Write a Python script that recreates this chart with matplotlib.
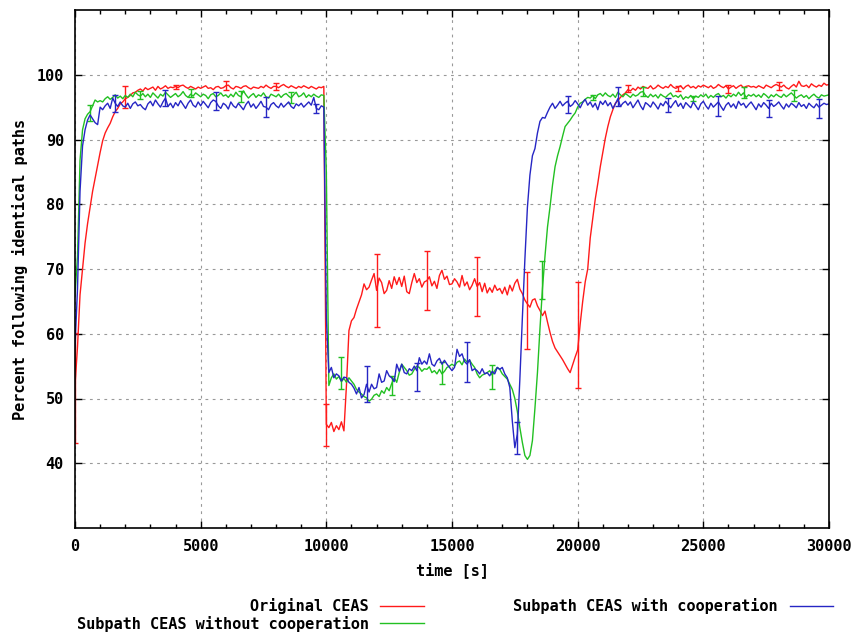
import numpy as np
import matplotlib
matplotlib.use('Agg')
import matplotlib.pyplot as plt
from matplotlib.lines import Line2D
from matplotlib.ticker import MultipleLocator

plt.rcParams['font.family'] = 'DejaVu Sans Mono'
plt.rcParams['font.weight'] = 'bold'
plt.rcParams['axes.labelweight'] = 'bold'
plt.rcParams['font.size'] = 11

# datos: una muestra cada 100 s
time = np.arange(0, 30001, 100)

original = [
    52.0, 58.0, 66.0, 70.0, 74.0, 77.0, 79.5, 82.0, 84.0, 86.0,
    88.0, 89.8, 91.0, 91.8, 92.5, 93.5, 94.3, 94.8, 95.5, 95.8,
    96.3, 96.5, 96.8, 97.2, 97.3, 97.6, 97.8, 97.5, 98.0, 97.7,
    97.9, 98.1, 97.6, 98.2, 97.8, 98.0, 98.3, 97.9, 98.1, 98.0,
    98.2, 98.0, 98.3, 98.4, 98.1, 97.9, 98.2, 98.0, 97.8, 98.1,
    97.9, 98.1, 98.3, 97.9, 98.0, 97.7, 98.1, 98.2, 97.9, 98.0,
    98.3, 98.4, 98.0, 97.8, 98.2, 98.1, 97.9, 98.2, 98.3, 98.0,
    97.8, 98.1, 98.0, 97.9, 98.2, 98.0, 98.4, 98.1, 97.9, 98.2,
    98.2, 98.0, 98.3, 98.5, 98.2, 98.0, 98.3, 98.1, 97.9, 98.2,
    98.0, 98.3, 98.1, 97.9, 98.2, 98.0, 97.8, 98.1, 98.0, 98.2,
    46.0, 45.5, 46.3, 44.9, 45.8, 45.2, 46.4, 45.0, 52.0, 60.5,
    62.0, 62.5, 63.8, 64.9, 66.0, 67.7, 66.8, 67.2, 68.3, 69.3,
    66.7, 68.6, 67.9, 66.2, 66.7, 68.2, 67.0, 68.8, 67.6, 68.7,
    67.3, 68.9, 66.5, 66.2, 67.9, 69.3, 67.9, 68.5, 67.2, 68.0,
    68.2, 68.8, 67.4, 68.1, 67.0, 69.0, 69.8, 68.4, 68.9, 67.6,
    67.7, 68.5, 68.0, 67.2, 69.0, 67.4, 68.0, 66.8, 67.5, 68.5,
    67.3, 67.9, 66.5, 67.8, 66.3, 67.1, 66.4, 67.5, 66.7, 67.0,
    66.2, 67.2, 66.0, 67.5, 66.6, 67.8, 68.4, 66.9, 66.2, 65.2,
    64.6, 64.1, 65.2, 65.4, 64.3, 63.6, 62.8, 63.5, 61.8, 60.2,
    58.8, 57.8, 57.2, 56.6, 56.0, 55.3, 54.6, 54.0, 55.2, 56.4,
    57.5, 61.5, 65.0, 68.0, 70.0, 74.8, 77.8, 80.8, 83.2, 85.8,
    88.0, 90.2, 92.0, 93.5, 94.6, 95.6, 96.0, 96.5, 96.9, 97.2,
    97.7, 97.5, 97.9, 97.6, 98.1, 97.8, 98.2, 98.0, 97.9, 98.3,
    97.8, 98.0, 98.4, 98.1, 97.9, 98.2, 98.0, 98.5, 98.1, 97.9,
    98.1, 98.3, 97.8, 98.2, 98.4, 98.0, 98.2, 97.9, 98.3, 98.1,
    98.4, 98.2, 98.0, 98.3, 97.9, 98.1, 98.5, 98.2, 98.0, 98.3,
    97.8, 98.1, 98.3, 97.9, 98.2, 98.4, 98.0, 98.2, 98.3, 98.1,
    98.2, 98.0, 98.3, 98.1, 97.9, 98.4, 98.2, 98.0, 98.3, 98.5,
    98.3, 98.1, 98.4, 98.0, 97.8, 98.2, 98.5, 98.1, 99.0, 98.3,
    98.2, 98.4, 98.0, 98.6, 98.3, 98.1, 98.4, 98.2, 98.7, 98.4,
    98.5,
]

sin_coop = [
    66.0, 72.0, 86.8, 91.5, 93.2, 93.9, 94.3, 95.2, 96.1, 95.8,
    96.0, 95.8, 96.3, 96.6, 96.2, 96.5, 96.9, 96.4, 96.7, 96.3,
    96.8, 96.5, 97.0, 96.6, 97.3, 96.9, 96.7, 97.1, 96.6, 97.0,
    96.5, 97.2, 96.8, 96.4, 97.0, 96.7, 97.3, 96.9, 96.5, 96.8,
    97.1, 96.6, 96.9, 97.4, 96.8, 96.5, 97.0, 96.7, 97.2, 96.9,
    96.6, 97.0, 96.8, 96.3, 96.9, 97.1, 96.6, 96.8, 97.2, 96.7,
    96.9, 96.5, 97.0, 96.6, 97.3, 96.8, 96.6, 97.5, 96.9, 96.4,
    96.8, 97.1, 96.5, 96.9, 96.7, 97.2, 96.6, 96.4, 97.0, 96.8,
    96.6, 97.0, 96.5, 96.9, 97.1, 96.7, 96.4, 96.9, 97.3, 96.6,
    96.8, 97.2, 96.5, 96.9, 96.6, 97.0, 96.7, 96.5, 96.9, 96.8,
    85.0, 52.0, 53.2, 53.8, 53.0, 53.4, 52.6, 53.1, 52.5, 53.2,
    52.7, 52.2, 51.4, 51.0, 50.7, 50.3, 50.1, 49.6, 49.9, 50.5,
    50.7, 50.3, 51.2, 50.8, 51.7, 51.2, 52.3, 53.2, 52.5, 54.0,
    55.3, 54.8, 54.3, 53.6, 53.8, 54.5, 55.0, 54.8, 54.2, 54.6,
    54.5, 54.9, 54.0, 54.3, 53.8, 54.5, 53.8, 54.2, 54.8, 55.0,
    55.3, 55.0, 55.6, 55.8, 55.2, 56.1, 55.6, 55.9, 55.3, 54.8,
    53.8, 53.2, 53.6, 53.8, 54.0, 54.3, 53.6, 54.3, 54.8, 54.5,
    53.8, 53.4, 53.0, 52.2, 51.4, 50.0, 48.0, 45.5, 43.2, 41.2,
    40.6, 41.2, 43.5, 48.5, 54.0, 60.8, 67.0, 72.0, 76.5, 79.6,
    83.0, 85.8, 87.5, 88.9, 90.5, 92.0, 92.5, 93.0, 93.6, 94.1,
    95.0, 95.6, 95.8, 96.2, 96.5, 96.4, 96.8, 96.3, 96.9, 97.1,
    96.7, 97.2, 96.8, 96.6, 97.0, 96.5, 97.3, 96.9, 96.6, 97.1,
    96.8, 96.5, 97.0, 96.7, 96.9, 97.3, 97.4, 96.8, 96.5, 97.0,
    96.6, 96.9, 96.4, 97.0, 96.7, 96.5, 96.9, 97.2, 96.6, 96.8,
    96.5, 96.9, 96.2, 96.6, 96.4, 96.8, 96.3, 96.7, 96.5, 96.9,
    96.6, 97.0, 96.4, 96.8, 96.5, 96.9, 97.1, 96.6, 96.8, 96.4,
    96.9, 96.6, 97.0, 96.7, 97.3, 96.8, 97.2, 96.5, 96.9, 96.7,
    97.0, 96.6, 96.9, 96.5, 97.1, 96.8, 96.4, 96.9, 96.6, 97.0,
    96.7, 96.5, 97.0, 96.6, 96.9, 97.2, 96.8, 96.4, 96.7, 96.9,
    96.5, 96.8, 96.3, 96.7, 97.0, 96.6, 96.4, 96.9, 96.7, 96.8,
    96.9,
]

con_coop = [
    58.0, 67.0, 82.0, 89.0, 91.5, 93.0, 93.8, 93.2, 92.6, 92.3,
    95.0, 94.6, 95.2, 95.6, 94.8, 96.4, 95.6, 95.1, 95.8, 95.2,
    95.0, 95.6, 94.8, 95.5, 95.8, 95.2, 95.4, 94.9, 94.6, 95.5,
    95.9, 95.2, 96.1, 95.5, 95.0, 95.8, 96.4, 95.1, 95.6, 94.9,
    95.7, 95.2, 96.0, 95.4, 94.8, 95.6, 96.1, 95.3, 95.0, 95.8,
    95.2, 95.9, 95.4, 94.9, 95.7, 96.1, 95.9, 95.2, 94.8, 95.6,
    95.3, 94.7, 95.8, 95.2, 94.9, 95.6, 95.1, 94.6, 95.4, 95.9,
    95.0, 95.5, 94.8, 95.3, 95.9, 95.1, 95.0, 94.6, 95.4, 95.7,
    95.2, 94.9, 95.6, 95.0, 95.4, 95.8, 95.1, 94.8, 95.5, 95.2,
    95.6, 95.0, 95.4, 95.8, 95.3, 96.5, 94.8, 94.6, 95.2, 95.0,
    62.5, 54.0, 54.8, 53.2, 53.8, 53.5, 52.7, 53.3, 53.2, 52.5,
    52.2, 51.6, 50.7, 51.7, 50.1, 50.6, 52.2, 51.0, 52.2, 51.5,
    51.7, 53.8, 52.5, 52.7, 54.3, 53.5, 53.2, 52.6, 55.3, 54.2,
    55.3, 54.0, 53.8, 54.6, 54.3, 55.0, 54.3, 56.3, 55.3, 55.8,
    55.3, 56.9, 55.3, 55.0, 55.8, 56.2, 55.3, 55.9, 55.3, 54.8,
    54.3, 54.8, 57.6, 56.5, 56.9, 55.7, 55.3, 56.0, 54.3, 54.6,
    54.3, 53.8, 54.6, 53.8, 54.0, 53.5, 54.2, 53.8, 54.8, 54.5,
    54.8, 53.8, 53.2, 51.7, 46.5, 42.4, 44.5, 53.0, 62.5, 71.5,
    79.5, 84.5, 87.5, 88.6, 91.0, 92.8, 93.4, 93.3, 94.2, 95.0,
    95.6, 94.8, 95.3, 95.9, 95.2, 95.6, 95.9, 95.1, 95.4, 96.0,
    95.5, 94.9, 95.7, 96.2, 95.3, 95.8, 95.0, 95.6, 94.6, 95.9,
    95.4, 96.0, 95.2, 95.7, 94.8, 95.5, 96.3, 95.1, 95.6, 95.9,
    95.3, 95.8, 94.9, 95.5, 96.1, 95.2, 94.6, 95.7, 95.4, 95.0,
    95.8, 95.3, 94.7, 95.6, 95.2, 95.9, 95.4, 94.9, 95.5, 96.0,
    95.1, 95.6, 94.8, 95.7, 95.3, 94.9, 95.8, 95.2, 94.6, 95.5,
    95.9, 95.2, 94.7, 95.6, 95.0, 95.4, 95.8, 95.1, 94.5, 95.3,
    95.7, 95.0, 95.5, 94.8, 95.9, 95.3, 95.6, 94.9, 95.4, 95.8,
    95.2, 94.6, 95.5, 95.0, 95.7, 95.3, 94.8, 95.6, 95.1, 95.4,
    95.8, 95.2, 94.7, 95.5, 95.0, 95.6, 95.3, 94.9, 95.7, 95.1,
    95.4, 94.8, 95.6, 95.2, 94.9, 95.5, 95.0, 95.3, 95.6, 95.4,
    95.5,
]

# barras de error
t_err_orig = [0, 2000, 4000, 6000, 8000, 10000, 12000, 14000, 16000, 18000,
              20000, 22000, 24000, 26000, 28000]
v_err_orig = [51.6, 96.6, 98.1, 98.3, 98.2, 45.9, 66.7, 68.2, 67.3, 63.6,
              59.8, 97.9, 97.9, 97.8, 98.3]
e_err_orig = [8.5, 1.7, 0.3, 0.7, 0.5, 3.2, 5.6, 4.6, 4.6, 5.9,
              8.2, 0.5, 0.4, 0.6, 0.65]

t_err_sin = [600, 2600, 4600, 6600, 8600, 10600, 12600, 14600, 16600, 18600,
             20600, 22600, 24600, 26600, 28600]
v_err_sin = [94.1, 96.9, 97.2, 96.7, 96.5, 53.9, 52.0, 53.9, 53.3, 68.3,
             96.5, 97.4, 96.3, 97.2, 96.8]
e_err_sin = [1.3, 0.65, 0.65, 0.85, 0.9, 2.5, 1.4, 1.7, 1.8, 3.0,
             0.4, 0.7, 0.4, 0.85, 0.85]

t_err_con = [1600, 3600, 5600, 7600, 9600, 11600, 13600, 15600, 17600, 19600,
             21600, 23600, 25600, 27600, 29600]
v_err_con = [95.6, 96.4, 95.9, 95.0, 94.8, 52.2, 53.3, 55.7, 43.9, 95.4,
             96.6, 95.3, 95.2, 94.8, 94.8]
e_err_con = [1.3, 1.3, 1.4, 1.5, 0.7, 2.8, 2.2, 3.1, 2.4, 1.3,
             1.45, 1.1, 1.55, 1.35, 1.45]

rojo = '#ff1a1a'
verde = '#22c022'
azul = '#2626c4'

fig = plt.figure(figsize=(8.58, 6.34), dpi=100)
ax = fig.add_axes([75/858, 1 - 528/634, (829 - 75)/858, (528 - 10)/634])

ax.plot(time, original, '-', color=rojo, lw=1)
ax.errorbar(t_err_orig, v_err_orig, yerr=e_err_orig, fmt='none', ecolor=rojo,
            elinewidth=1, capsize=2.5, capthick=1)
ax.plot(time, sin_coop, '-', color=verde, lw=1)
ax.errorbar(t_err_sin, v_err_sin, yerr=e_err_sin, fmt='none', ecolor=verde,
            elinewidth=1, capsize=2.5, capthick=1)
ax.plot(time, con_coop, '-', color=azul, lw=1)
ax.errorbar(t_err_con, v_err_con, yerr=e_err_con, fmt='none', ecolor=azul,
            elinewidth=1, capsize=2.5, capthick=1)

ax.set_xlim(0, 30000)
ax.set_ylim(30, 110)
ax.set_xticks(range(0, 30001, 5000))
ax.set_yticks(range(40, 101, 10))
ax.xaxis.set_minor_locator(MultipleLocator(1000))
ax.tick_params(which='both', direction='in', top=True, right=True, width=1)
ax.tick_params(which='major', length=5)
ax.tick_params(which='minor', length=3)
ax.tick_params(axis='x', pad=8)
ax.tick_params(axis='y', pad=8)
for lab in ax.get_xticklabels() + ax.get_yticklabels():
    lab.set_fontweight('bold')
for s in ax.spines.values():
    s.set_linewidth(1.2)
ax.grid(True, which='major', color='#999999', lw=0.8, linestyle=(0, (2.5, 4)))

ax.set_xlabel('time [s]', labelpad=6, fontweight='bold')
ax.set_ylabel('Percent following identical paths', labelpad=6, fontweight='bold')

# leyenda manual, texto alineado a la derecha como en gnuplot
def entrada(texto, x_fin, x0, x1, y, color):
    fig.text(x_fin/858, 1 - (y + 5.5)/634, texto, ha='right', va='baseline',
             fontweight='bold')
    fig.add_artist(Line2D([x0/858, x1/858], [1 - y/634, 1 - y/634], color=color, lw=1))

entrada('Original CEAS', 369, 380, 424, 606, rojo)
entrada('Subpath CEAS without cooperation', 369, 380, 424, 623, verde)
entrada('Subpath CEAS with cooperation', 778, 790, 833, 606, azul)

fig.savefig('out.png', dpi=100)
